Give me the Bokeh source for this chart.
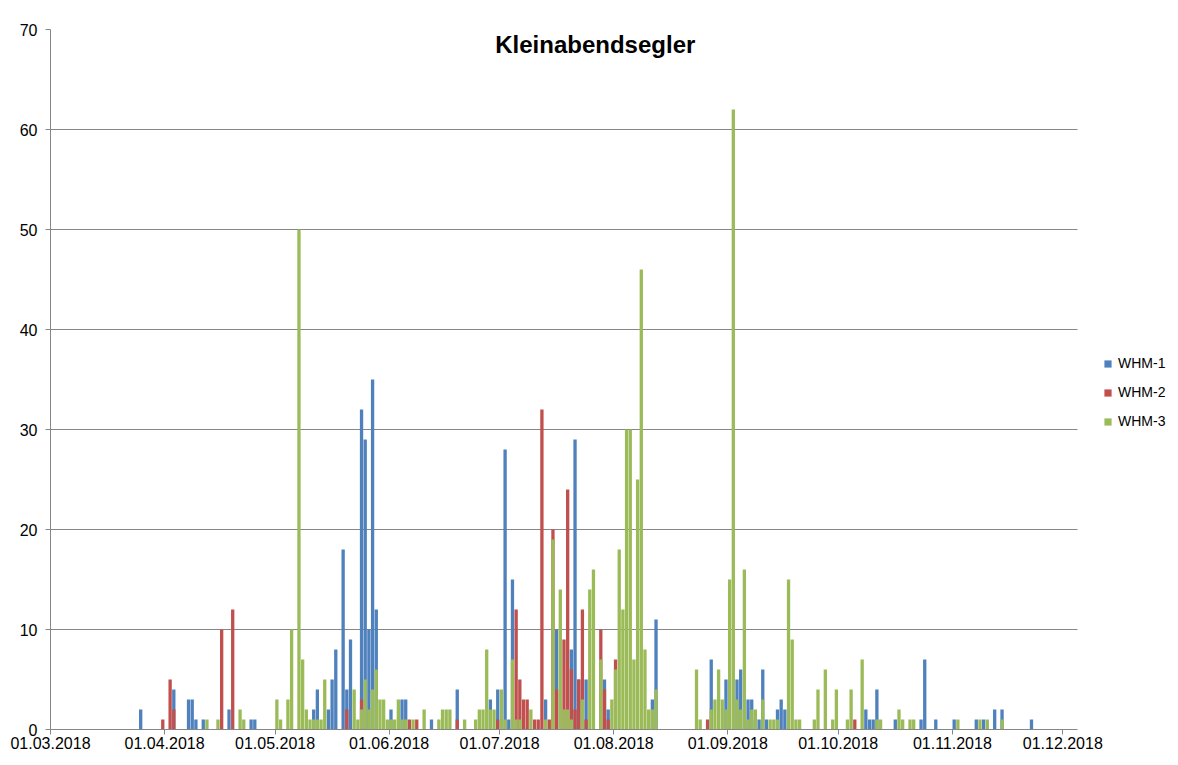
from datetime import date
from bokeh.plotting import figure
from bokeh.models import Range1d, FixedTicker, Legend, LegendItem, Label
from bokeh.embed import file_html
from bokeh.resources import INLINE

START = date(2018, 3, 1)

# day offsets since 01.03.2018 and counts
whm1_day = [24, 33, 37, 38, 39, 41, 48, 54, 55,
            71, 72, 75, 76, 77, 79, 80, 81, 84, 85, 86, 87, 88, 92, 95, 96,
            103, 110, 119, 121, 123, 124, 125, 134, 137, 141, 142, 143, 145, 150, 151, 163, 164,
            179, 183, 186, 187, 189, 190, 191, 192, 193, 194, 197, 198, 199,
            221, 222, 223, 224, 229, 236, 237, 240, 245, 251, 253, 256, 258, 266]
whm1_val = [2, 4, 3, 3, 1, 1, 2, 1, 1,
            2, 4, 2, 5, 8, 18, 4, 9, 32, 29, 10, 35, 12, 2, 3, 3,
            1, 4, 3, 4, 28, 1, 15, 3, 10, 8, 29, 5, 5, 5, 2, 3, 11,
            7, 5, 5, 6, 3, 3, 1, 1, 6, 1, 2, 3, 2,
            2, 1, 1, 4, 1, 1, 7, 1, 1, 1, 1, 2, 2, 1]

whm2_day = [30, 32, 33, 46, 49, 80, 84, 97, 99, 110, 121,
            126, 127, 128, 129, 131, 132, 133, 135, 136, 137, 139, 140, 141, 142, 143, 144, 145,
            149, 150, 151, 153, 178, 218]
whm2_val = [1, 5, 2, 10, 12, 2, 3, 1, 1, 1, 1,
            12, 5, 3, 3, 1, 1, 32, 1, 20, 4, 9, 24, 6, 2, 5, 12, 1,
            10, 4, 1, 7, 1, 1]

whm3_day = [42, 45, 51, 52,
            61, 62, 64, 65, 67, 68, 69, 70, 71, 72, 73, 74, 82, 83, 84, 85, 86, 87, 88, 89, 90,
            91, 92, 93, 94, 95, 96, 98,
            101, 105, 106, 107, 108, 112, 115, 116, 117, 118, 119, 120, 122, 123, 125, 126, 127,
            130, 134, 136, 138, 139, 140, 141, 144, 146, 147, 149, 152, 153, 154, 155, 156, 157,
            158, 159, 160, 161, 162, 163, 164,
            175, 176, 179, 180, 181, 182, 183, 184, 185, 186, 187, 188, 189, 190, 191, 193, 195,
            196, 197, 200, 201, 202, 203, 207, 208, 210, 212, 213, 216, 217, 220, 224, 225, 230,
            231, 233, 234, 246, 252, 254, 258]
whm3_val = [1, 1, 2, 1,
            3, 1, 3, 10, 50, 7, 2, 1, 1, 1, 1, 5, 4, 1, 2, 5, 2, 4, 6, 3, 3,
            1, 1, 1, 3, 1, 1, 1,
            2, 1, 2, 2, 2, 1, 1, 2, 2, 8, 2, 2, 4, 1, 7, 1, 1,
            2, 1, 19, 14, 2, 2, 1, 3, 14, 16, 7, 3, 6, 18, 12, 30, 30,
            7, 25, 46, 8, 2, 2, 4,
            6, 1, 2, 3, 6, 3, 2, 15, 62, 3, 2, 16, 1, 2, 2, 3, 1,
            1, 1, 15, 9, 1, 1, 1, 4, 6, 1, 4, 1, 4, 7, 1, 1, 2,
            1, 1, 1, 1, 1, 1, 1]

series_names = ["WHM-1", "WHM-2", "WHM-3"]
series_colors = ["#4F81BD", "#C0504D", "#9BBB59"]

tick_dates = [date(2018, m, 1) for m in range(3, 13)]
tick_labels = ["01.03.2018", "01.04.2018", "01.05.2018", "01.06.2018", "01.07.2018",
               "01.08.2018", "01.09.2018", "01.10.2018", "01.11.2018", "01.12.2018"]
y_ticks = [0, 10, 20, 30, 40, 50, 60, 70]
title_text = "Kleinabendsegler"

FONT = "Liberation Sans"
GRAY = "#868686"

AXIS_END = 279.0            # days shown on the date axis
PLOT_W, LEFT, RIGHT = 1174, 50, 1
FRAME_W = PLOT_W - LEFT - RIGHT
X_END = AXIS_END * FRAME_W / 1027.0   # extra room on the right for the legend

p = figure(width=PLOT_W, height=755, x_range=Range1d(0, X_END), y_range=Range1d(0, 70),
           output_backend="svg", toolbar_location=None,
           min_border_left=LEFT, min_border_right=RIGHT, min_border_top=29, min_border_bottom=26)
p.outline_line_color = None
p.background_fill_color = "white"
p.border_fill_color = "white"

renderers = []
for days, vals, col in [(whm1_day, whm1_val, series_colors[0]),
                        (whm2_day, whm2_val, series_colors[1]),
                        (whm3_day, whm3_val, series_colors[2])]:
    r = p.vbar(x=[d + 0.5 for d in days], top=vals, width=0.9, bottom=0,
               fill_color=col, line_color=None)
    renderers.append(r)

tick_pos = [float((d - START).days) for d in tick_dates]
p.xaxis.ticker = FixedTicker(ticks=tick_pos)
p.xaxis.major_label_overrides = {t: lab for t, lab in zip(tick_pos, tick_labels)}
p.xaxis.bounds = (0, AXIS_END)
p.yaxis.ticker = FixedTicker(ticks=y_ticks)

for ax in (p.xaxis[0], p.yaxis[0]):
    ax.axis_line_color = GRAY
    ax.major_tick_line_color = GRAY
    ax.minor_tick_line_color = None
    ax.major_tick_in = 0
    ax.major_tick_out = 5
    ax.major_label_text_font = FONT
    ax.major_label_text_font_size = "16px"
    ax.major_label_text_color = "black"
p.xaxis.major_label_standoff = 2
p.yaxis.major_label_standoff = 8

p.xgrid.grid_line_color = None
p.ygrid.grid_line_color = GRAY
p.ygrid.grid_line_width = 1
p.ygrid.cross_bounds = (0, AXIS_END)

legend = Legend(items=[LegendItem(label=n, renderers=[r]) for n, r in zip(series_names, renderers)],
                location=(1053, 298), orientation="vertical",
                glyph_width=9, glyph_height=9, label_standoff=6, spacing=9,
                padding=0, margin=0, border_line_color=None, background_fill_alpha=0,
                label_text_font=FONT, label_text_font_size="14px", label_height=20,
                label_text_color="black")
p.add_layout(legend)

p.add_layout(Label(x=148, y=68.5, text=title_text, text_align="center", text_baseline="middle",
                   text_font=FONT, text_font_size="24px", text_font_style="bold",
                   text_color="black"))

open("out.html", "w").write(file_html(p, INLINE))
